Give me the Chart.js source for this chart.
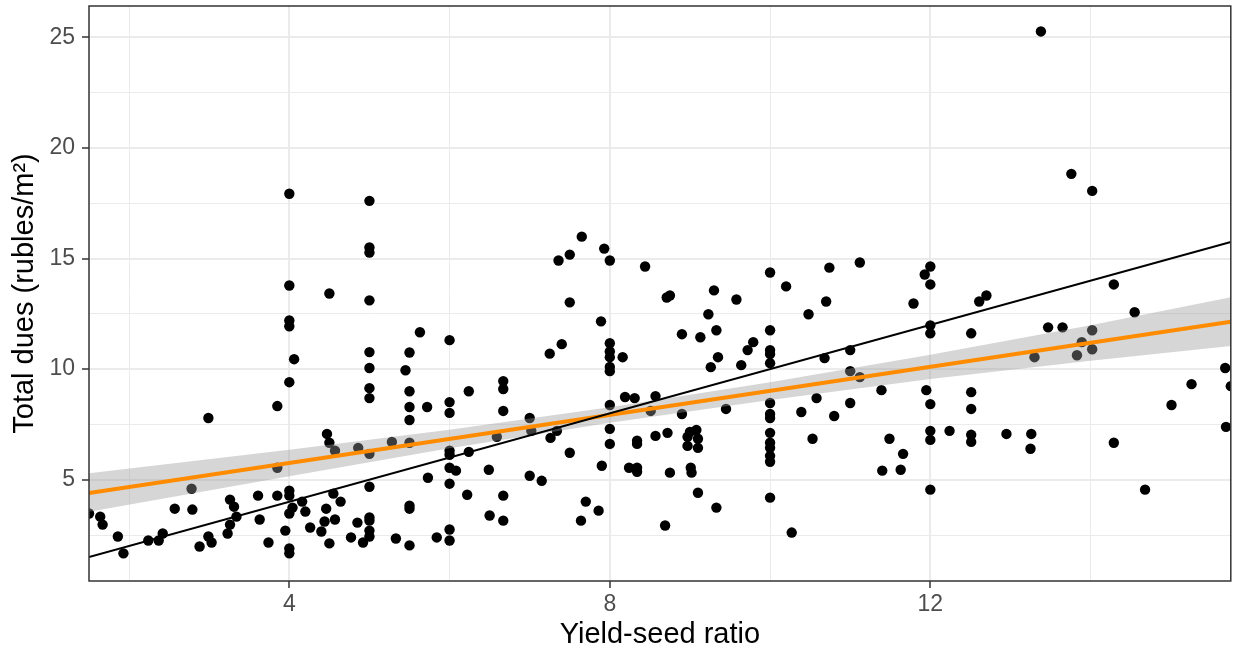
<!DOCTYPE html>
<html>
<head>
<meta charset="utf-8">
<title>Total dues vs yield-seed ratio</title>
<script src="https://cdn.jsdelivr.net/npm/chart.js@4.4.1/dist/chart.umd.min.js"></script>
<style>
  html, body { margin: 0; padding: 0; background: #fff; }
  #wrap { width: 1236px; height: 654px; }
</style>
</head>
<body>
<div id="wrap"><canvas id="chart" width="1236" height="654"></canvas></div>
<script>
// axis ranges and tick labels
const xRange = [1.5, 15.75];
const yRange = [0.42, 26.42];
const xMajor = [4, 8, 12];
const xMinor = [2, 6, 10, 14];
const yMajor = [5, 10, 15, 20, 25];
const yMinor = [2.5, 7.5, 12.5, 17.5, 22.5];

// observations: [yield-seed ratio, total dues]
const duesPoints = [
  [1.5, 3.47], [1.64, 3.33], [1.67, 2.97], [1.86, 2.43], [1.93, 1.67],
  [2.24, 2.25], [2.37, 2.25], [2.42, 2.57], [2.57, 3.69], [2.78, 4.59],
  [2.79, 3.65], [2.88, 1.98], [2.99, 2.43], [2.99, 7.79], [3.03, 2.16],
  [3.23, 2.57], [3.26, 4.1], [3.31, 3.78], [3.34, 3.33], [3.26, 2.97],
  [3.61, 4.28], [3.63, 3.2], [3.74, 2.16], [3.85, 8.33], [3.85, 5.54],
  [3.85, 4.28], [3.95, 2.7],
  [4, 17.93], [4, 13.78], [4, 12.2], [4, 11.94], [4, 9.41], [4, 4.5],
  [4, 4.28], [4, 3.47], [4, 1.89], [4, 1.67],
  [4.04, 3.74], [4.06, 10.45], [4.16, 4.01], [4.2, 3.56], [4.26, 2.84],
  [4.4, 2.66], [4.44, 3.11], [4.46, 3.69], [4.47, 7.07], [4.5, 6.67],
  [4.5, 13.42], [4.5, 2.12], [4.55, 4.37], [4.57, 6.31], [4.57, 3.2],
  [4.64, 4.01], [4.77, 2.39], [4.85, 3.06], [4.86, 6.44], [4.92, 2.16],
  [5, 17.61], [5, 15.5], [5, 15.27], [5, 13.11], [5, 10.77], [5, 10.05],
  [5, 9.14], [5, 8.69], [5, 6.17], [5, 4.68], [5, 3.29], [5, 3.15],
  [5, 2.7], [5, 2.43],
  [5.28, 6.71], [5.33, 2.34],
  [5.5, 10.75], [5.45, 9.95], [5.5, 9.0], [5.5, 8.29], [5.5, 7.7],
  [5.5, 6.67], [5.5, 3.83], [5.5, 3.69], [5.5, 2.03],
  [5.63, 11.67], [5.72, 8.29], [5.73, 5.09], [5.84, 2.39],
  [6, 11.31], [6, 8.51], [6, 8.02], [6, 6.31], [6, 6.13], [6, 5.54],
  [6, 4.82], [6, 2.75], [6, 2.25],
  [6.08, 5.41], [6.22, 4.32], [6.24, 9.0], [6.24, 6.26], [6.49, 5.45],
  [6.5, 3.38], [6.59, 6.94],
  [6.67, 9.46], [6.67, 9.1], [6.67, 8.11], [6.67, 4.28], [6.67, 3.15],
  [7.0, 7.79], [7.02, 7.21], [7.0, 5.18], [7.15, 4.95], [7.25, 10.7],
  [7.26, 6.89], [7.34, 7.21], [7.36, 14.91], [7.4, 11.13], [7.5, 15.18],
  [7.5, 13.02], [7.5, 6.22], [7.64, 3.15], [7.65, 15.99], [7.7, 4.01],
  [7.86, 3.6], [7.89, 12.16], [7.9, 5.63], [7.93, 15.45],
  [8, 14.91], [8, 11.17], [8, 10.8], [8, 10.54], [8, 10.1], [8, 9.91],
  [8, 8.38], [8, 7.3], [8, 6.62],
  [8.16, 10.54], [8.19, 8.74], [8.24, 5.54], [8.31, 8.69], [8.34, 6.76],
  [8.34, 6.62], [8.34, 5.54], [8.34, 5.36], [8.44, 14.64], [8.51, 8.11],
  [8.57, 8.78], [8.57, 6.98], [8.69, 2.93], [8.72, 7.12], [8.71, 13.24],
  [8.75, 13.33], [8.75, 5.32], [8.9, 11.58], [8.9, 7.97], [8.97, 6.94],
  [8.97, 6.53], [9.0, 7.16], [9.08, 7.25], [9.1, 6.85], [9.1, 6.44],
  [9.01, 5.54], [9.02, 5.32], [9.1, 4.41], [9.13, 11.44], [9.23, 12.48],
  [9.26, 10.09], [9.3, 13.56], [9.33, 11.76], [9.35, 10.54], [9.33, 3.74],
  [9.45, 8.2], [9.58, 13.15], [9.64, 10.18], [9.72, 10.86], [9.79, 11.22],
  [10, 14.37], [10, 11.76], [10, 10.86], [10, 10.68], [10, 10.27],
  [10, 8.47], [10, 7.97], [10, 7.79], [10, 7.12], [10, 6.67], [10, 6.44],
  [10, 6.08], [10, 5.81], [10, 4.19],
  [10.2, 13.74], [10.27, 2.61], [10.39, 8.06], [10.48, 12.48], [10.53, 6.85],
  [10.58, 8.69], [10.68, 10.5], [10.7, 13.06], [10.74, 14.59], [10.8, 7.88],
  [11.0, 10.86], [11.0, 9.91], [11.0, 8.47], [11.12, 14.82], [11.12, 9.64],
  [11.39, 9.05], [11.4, 5.41], [11.49, 6.85], [11.63, 5.45], [11.66, 6.17],
  [11.79, 12.97], [11.93, 14.28], [11.95, 9.05],
  [12, 14.64], [12, 13.83], [12, 11.98], [12, 11.62], [12, 8.42], [12, 7.21],
  [12, 6.8], [12, 4.55],
  [12.24, 7.21], [12.51, 11.62], [12.51, 8.96], [12.51, 8.2], [12.51, 7.03],
  [12.51, 6.71], [12.61, 13.06], [12.7, 13.33], [12.95, 7.07], [13.25, 6.4],
  [13.26, 7.07], [13.3, 10.54], [13.38, 25.27], [13.47, 11.89], [13.65, 11.89],
  [13.76, 18.83], [13.83, 10.63], [13.89, 11.22], [14.02, 18.06], [14.02, 11.76],
  [14.02, 10.9], [14.29, 13.83], [14.29, 6.67], [14.55, 12.57], [14.68, 4.55],
  [15.01, 8.38], [15.26, 9.32], [15.68, 10.05], [15.69, 7.39], [15.75, 9.23]
];

// linear fit and its confidence band
const fitX = [1.5, 15.75];
const fitY = [4.40, 12.14];
const bandX = [1.5, 4, 6, 8, 10, 12, 14, 15.75];
const bandLow = [3.55, 5.16, 6.42, 7.58, 8.61, 9.55, 10.38, 11.05];
const bandHigh = [5.29, 6.36, 7.26, 8.28, 9.41, 10.65, 11.98, 13.25];

// reference line y = x
const refX = [1.5, 15.75];
const refY = [1.5, 15.75];

const FONT = "'Liberation Sans', Arial, sans-serif";
const zip = (xs, ys) => xs.map((x, i) => ({ x: x, y: ys[i] }));

// ggplot-like panel border
const panelBorder = {
  id: "panelBorder",
  afterDraw(chart) {
    const { ctx, chartArea: a } = chart;
    ctx.save();
    ctx.strokeStyle = "#333333";
    ctx.lineWidth = 1.5;
    ctx.strokeRect(a.left, a.top, a.right - a.left, a.bottom - a.top);
    ctx.restore();
  }
};

function gridFor(majors) {
  return {
    color: "#EBEBEB",
    lineWidth: c => (majors.includes(c.tick.value) ? 2 : 1),
    tickColor: c => (majors.includes(c.tick.value) ? "#333333" : "rgba(0,0,0,0)"),
    tickLength: 7,
    tickWidth: 1.5,
    drawTicks: true
  };
}

// fixed axis sizes, no extra label overhang padding
function fixSize(prop, size) {
  return s => {
    s[prop] = size;
    s.paddingTop = 0;
    s.paddingBottom = 0;
    s.paddingLeft = 0;
    s.paddingRight = 0;
  };
}

new Chart(document.getElementById("chart"), {
  type: "scatter",
  data: {
    datasets: [
      {
        label: "dues",
        data: duesPoints.map(p => ({ x: p[0], y: p[1] })),
        backgroundColor: "#000000",
        borderWidth: 0,
        pointRadius: 5.2,
        clip: 0,
        order: 5
      },
      {
        label: "band low",
        data: zip(bandX, bandLow),
        showLine: true,
        borderWidth: 0,
        borderColor: "rgba(0,0,0,0)",
        pointRadius: 0,
        fill: false,
        order: 4
      },
      {
        label: "band high",
        data: zip(bandX, bandHigh),
        showLine: true,
        borderWidth: 0,
        borderColor: "rgba(0,0,0,0)",
        backgroundColor: "rgba(153,153,153,0.4)",
        pointRadius: 0,
        fill: "-1",
        order: 3
      },
      {
        label: "fit",
        data: zip(fitX, fitY),
        showLine: true,
        borderColor: "#FF8C00",
        borderWidth: 4,
        pointRadius: 0,
        order: 2
      },
      {
        label: "y = x",
        data: zip(refX, refY),
        showLine: true,
        borderColor: "#000000",
        borderWidth: 2,
        pointRadius: 0,
        order: 1
      }
    ]
  },
  options: {
    responsive: false,
    animation: false,
    devicePixelRatio: 1,
    layout: { padding: { top: 6, right: 3, bottom: 0, left: 0 } },
    plugins: { legend: { display: false }, tooltip: { enabled: false } },
    scales: {
      x: {
        type: "linear",
        min: xRange[0],
        max: xRange[1],
        afterBuildTicks: s => {
          s.ticks = [...xMinor, ...xMajor].sort((a, b) => a - b).map(v => ({ value: v }));
        },
        afterFit: fixSize("height", 73),
        border: { display: false },
        grid: gridFor(xMajor),
        ticks: {
          autoSkip: false,
          maxRotation: 0,
          padding: 3,
          color: "#4D4D4D",
          font: { family: FONT, size: 23 },
          callback: v => (xMajor.includes(v) ? String(v) : "")
        },
        title: {
          display: true,
          text: "Yield-seed ratio",
          color: "#000000",
          font: { family: FONT, size: 29 },
          padding: { top: 0, bottom: 2 }
        }
      },
      y: {
        type: "linear",
        min: yRange[0],
        max: yRange[1],
        afterBuildTicks: s => {
          s.ticks = [...yMinor, ...yMajor].sort((a, b) => a - b).map(v => ({ value: v }));
        },
        afterFit: fixSize("width", 89),
        border: { display: false },
        grid: gridFor(yMajor),
        ticks: {
          autoSkip: false,
          padding: 7,
          color: "#4D4D4D",
          font: { family: FONT, size: 23 },
          callback: v => (yMajor.includes(v) ? String(v) : "")
        },
        title: {
          display: true,
          text: "Total dues (rubles/m²)",
          color: "#000000",
          font: { family: FONT, size: 29 },
          padding: { top: 8, bottom: 0 }
        }
      }
    }
  },
  plugins: [panelBorder]
});
</script>
</body>
</html>
